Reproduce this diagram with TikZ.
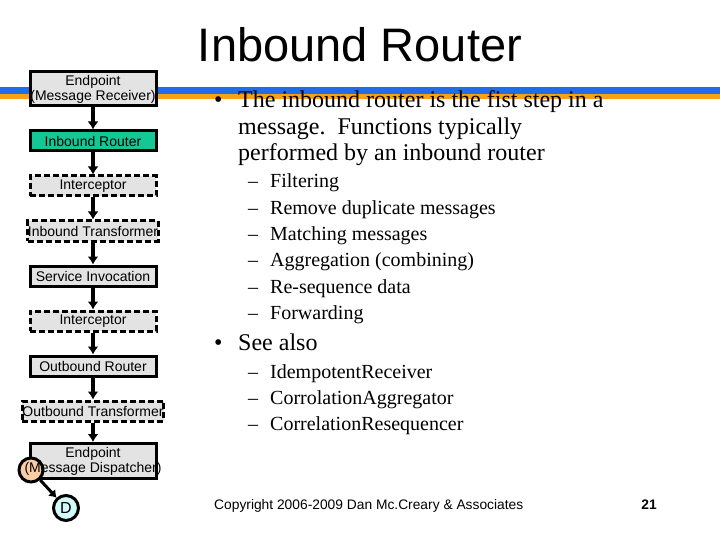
\documentclass[tikz,border=0pt]{standalone}
\usepackage{fontspec}
\usetikzlibrary{arrows.meta}
\setmainfont{Liberation Serif}
\newfontfamily\arial{Liberation Sans}
\definecolor{barblue}{RGB}{30,110,230}
\definecolor{barorange}{RGB}{250,160,20}
\definecolor{routergreen}{RGB}{20,200,150}
\definecolor{peach}{RGB}{250,205,165}
\definecolor{lcyan}{RGB}{210,250,250}
\begin{document}
\begin{tikzpicture}[x=1pt,y=-1pt,
  box/.style={draw=black,line width=3pt,fill=gray!22,minimum width=126pt,inner sep=0pt,font=\arial\fontsize{14}{15}\selectfont,align=center},
  dbox/.style={box,dash pattern=on 6pt off 3pt},
  arr/.style={line width=4pt,-{Latex[length=8pt,width=11pt]}},
  bl/.style={anchor=base west,inner sep=0pt,font=\fontsize{24}{26}\selectfont},
  sl/.style={anchor=base west,inner sep=0pt,font=\fontsize{20}{22}\selectfont}]
\useasboundingbox (0,0) rectangle (720,540);
\fill[white] (0,0) rectangle (720,540);
\fill[barblue] (0,87) rectangle (720,94);
\fill[barorange] (0,94) rectangle (720,99);
\node[font=\arial\fontsize{47}{50}\selectfont] (title) at (360,45) {Inbound Router};
\node[box,minimum height=34pt] (e1) at (93,89) {Endpoint\\(Message Receiver)};
\node[box,minimum height=20pt,fill=routergreen] (ir) at (93,141) {Inbound Router};
\node[dbox,minimum height=20pt] (ic1) at (93,186) {Interceptor};
\node[dbox,minimum height=20pt] (it) at (93,231) {Inbound Transformer};
\node[box,minimum height=20pt] (si) at (93,276) {Service Invocation};
\node[dbox,minimum height=20pt] (ic2) at (93,321) {Interceptor};
\node[box,minimum height=20pt] (orr) at (93,366) {Outbound Router};
\node[dbox,minimum height=20pt] (ot) at (93,411) {Outbound Transformer};
\node[box,minimum height=35pt,minimum width=126pt] (e2) at (93,461) {\phantom{X}};
\node[circle,draw,line width=3pt,fill=peach,minimum size=24pt,inner sep=0pt] (c1) at (31,470) {};
\node[inner sep=0pt,align=center,font=\arial\fontsize{14}{15}\selectfont] (e2t) at (e2.center) {Endpoint\\(Message Dispatcher)};
\node[circle,draw,line width=3pt,fill=lcyan,minimum size=25pt,inner sep=0pt,font=\arial\fontsize{16}{17}\selectfont] (d) at (66,508) {D};
\draw[arr] (e1) -- (ir);
\draw[arr] (ir) -- (ic1);
\draw[arr] (ic1) -- (it);
\draw[arr] (it) -- (si);
\draw[arr] (si) -- (ic2);
\draw[arr] (ic2) -- (orr);
\draw[arr] (orr) -- (ot);
\draw[arr] (ot) -- (e2);
\draw[line width=3pt,-{Latex[length=7pt,width=10pt]}] (c1) -- (d);
\node[bl] (b1) at (214,108) {•};
\node[bl] at (238,108) {The inbound router is the fist step in a};
\node[bl] at (238,134.5) {message.\ \ Functions typically};
\node[bl] at (238,161) {performed by an inbound router};
\foreach \t [count=\i] in {Filtering,Remove duplicate messages,Matching messages,Aggregation (combining),Re-sequence data,Forwarding}
 {\node[sl] at (248,{188+(\i-1)*26.3}) {–}; \node[sl] at (270,{188+(\i-1)*26.3}) {\t};}
\node[bl] at (214,350) {•};
\node[bl] at (238,350) {See also};
\foreach \t [count=\i] in {IdempotentReceiver,CorrolationAggregator,CorrelationResequencer}
 {\node[sl] at (248,{378+(\i-1)*26.3}) {–}; \node[sl] at (270,{378+(\i-1)*26.3}) {\t};}
\node[anchor=base west,inner sep=0pt,font=\arial\fontsize{13.8}{15}\selectfont] (copy) at (214,509) {Copyright 2006-2009 Dan Mc.Creary \& Associates};
\node[anchor=base,inner sep=0pt,font=\arial\bfseries\fontsize{13.8}{15}\selectfont] (pg) at (649,509) {21};
\end{tikzpicture}
\end{document}
